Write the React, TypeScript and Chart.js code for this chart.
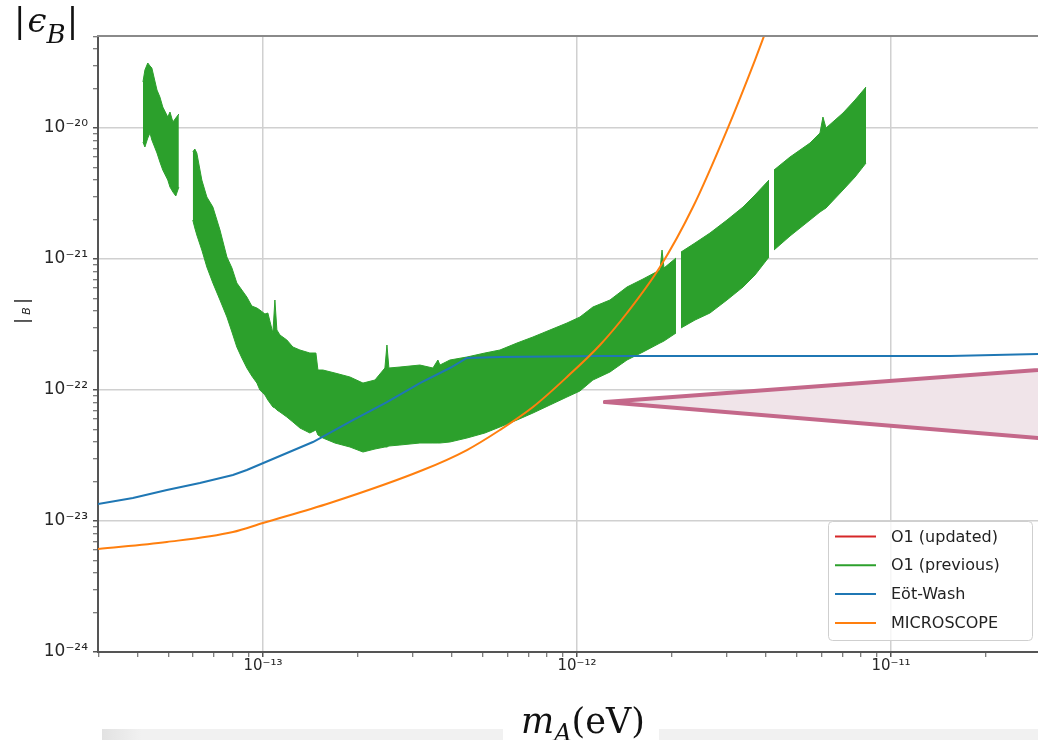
import React, { useEffect, useRef } from "react";
import { Chart, registerables } from "chart.js";

Chart.register(...registerables);

// ---------------- data ----------------
// O1 (previous): envelope of the dense oscillating limit; null entries are gaps
const o1PrevMass = [
  4.15e-14, 4.21e-14, 4.30e-14, 4.37e-14, 4.43e-14, 4.60e-14, 4.70e-14, 4.80e-14, 4.98e-14, 5.06e-14, 5.17e-14, 5.28e-14, 5.40e-14,
  5.7e-14,
  5.98e-14, 6.07e-14, 6.16e-14, 6.39e-14, 6.63e-14, 6.93e-14, 7.30e-14, 7.68e-14, 7.97e-14, 8.26e-14, 8.57e-14, 8.89e-14, 9.22e-14, 9.57e-14, 9.78e-14,
  1.015e-13, 1.037e-13, 1.076e-13, 1.092e-13, 1.108e-13, 1.133e-13, 1.192e-13, 1.246e-13, 1.312e-13, 1.411e-13, 1.475e-13, 1.497e-13, 1.553e-13, 1.696e-13, 1.893e-13,
  2.083e-13, 2.274e-13, 2.446e-13, 2.483e-13, 2.519e-13, 2.732e-13, 3.162e-13, 3.478e-13, 3.608e-13, 3.662e-13, 3.939e-13, 4.464e-13, 5.093e-13, 5.685e-13, 6.443e-13, 7.243e-13, 8.204e-13, 9.294e-13,
  1.022e-12, 1.124e-12, 1.274e-12, 1.443e-12, 1.623e-12, 1.838e-12, 1.866e-12, 1.893e-12, 2.067e-12,
  2.1e-12,
  2.144e-12, 2.376e-12, 2.652e-12, 3.004e-12, 3.379e-12, 3.689e-12, 4.088e-12,
  4.16e-12,
  4.241e-12, 4.769e-12, 5.521e-12, 5.940e-12, 6.071e-12, 6.209e-12, 7.033e-12, 7.682e-12, 8.326e-12,
];
const o1PrevUpper = [
  2.244e-20, 2.771e-20, 3.135e-20, 2.974e-20, 2.871e-20, 1.950e-20, 1.724e-20, 1.446e-20, 1.213e-20, 1.325e-20, 1.111e-20, 1.192e-20, 1.279e-20,
  null,
  6.560e-21, 6.914e-21, 6.446e-21, 4.010e-21, 2.974e-21, 2.494e-21, 1.665e-21, 1.036e-21, 8.537e-22, 6.558e-22, 5.799e-22, 5.128e-22, 4.377e-22, 4.227e-22, 4.081e-22,
  3.804e-22, 3.871e-22, 2.723e-22, 4.864e-22, 2.871e-22, 2.630e-22, 2.408e-22, 2.129e-22, 2.020e-22, 1.916e-22, 1.916e-22, 1.421e-22, 1.421e-22, 1.348e-22, 1.257e-22,
  1.130e-22, 1.192e-22, 1.472e-22, 2.206e-22, 1.472e-22, 1.498e-22, 1.551e-22, 1.472e-22, 1.694e-22, 1.551e-22, 1.694e-22, 1.786e-22, 1.916e-22, 2.020e-22, 2.284e-22, 2.539e-22, 2.871e-22, 3.246e-22,
  3.608e-22, 4.301e-22, 4.864e-22, 6.112e-22, 7.036e-22, 8.242e-22, 1.171e-21, 8.537e-22, 1.018e-21,
  null,
  1.130e-21, 1.325e-21, 1.579e-21, 1.984e-21, 2.494e-21, 3.080e-21, 4.010e-21,
  null,
  4.779e-21, 6.008e-21, 7.682e-21, 9.159e-21, 1.213e-20, 1.0e-20, 1.302e-20, 1.636e-20, 2.056e-20,
];
const o1PrevLower = [
  7.818e-21, 7.161e-21, 8.388e-21, 9.159e-21, 8.098e-21, 6.446e-21, 5.500e-21, 4.779e-21, 4.010e-21, 3.545e-21, 3.246e-21, 3.027e-21, 3.545e-21,
  null,
  1.984e-21, 1.724e-21, 1.525e-21, 1.171e-21, 8.687e-22, 6.558e-22, 4.864e-22, 3.608e-22, 2.772e-22, 2.129e-22, 1.755e-22, 1.472e-22, 1.279e-22, 1.130e-22, 1.0e-22,
  9.159e-23, 8.388e-23, 7.418e-23, 7.3e-23, 7.036e-23, 6.794e-23, 6.220e-23, 5.698e-23, 5.128e-23, 4.697e-23, 4.952e-23, 4.534e-23, 4.301e-23, 3.939e-23, 3.672e-23,
  3.362e-23, 3.545e-23, 3.672e-23, 3.672e-23, 3.737e-23, 3.803e-23, 3.939e-23, 3.939e-23, 3.939e-23, 3.939e-23, 4.009e-23, 4.301e-23, 4.697e-23, 5.219e-23, 5.902e-23, 6.675e-23, 7.682e-23, 8.842e-23,
  9.826e-23, 1.192e-22, 1.372e-22, 1.694e-22, 1.950e-22, 2.284e-22, 2.324e-22, 2.366e-22, 2.723e-22,
  null,
  2.974e-22, 3.422e-22, 3.871e-22, 4.864e-22, 6.112e-22, 7.548e-22, 1.036e-21,
  null,
  1.171e-21, 1.498e-21, 1.984e-21, 2.284e-21, 2.366e-21, 2.451e-21, 3.362e-21, 4.227e-21, 5.404e-21,
];

const eotWashMass = [2.985e-14, 3.855e-14, 4.946e-14, 6.30e-14, 8.027e-14, 8.89e-14, 1.443e-13, 1.935e-13, 2.483e-13, 3.162e-13, 3.939e-13, 4.464e-13, 5.685e-13, 1.184e-12, 1.541e-11, 2.938e-11];
const eotWashEps = [1.348e-23, 1.498e-23, 1.724e-23, 1.950e-23, 2.244e-23, 2.451e-23, 4.009e-23, 5.902e-23, 8.098e-23, 1.130e-22, 1.472e-22, 1.755e-22, 1.786e-22, 1.817e-22, 1.817e-22, 1.882e-22];

const microscopeMass = [2.985e-14, 4.946e-14, 8.027e-14, 1e-13, 1.635e-13, 3.232e-13, 4.464e-13, 5.685e-13, 7.243e-13, 9.294e-13, 1.184e-12, 1.443e-12, 1.838e-12, 2.341e-12, 3.004e-12, 3.689e-12, 4.117e-12];
const microscopeEps = [6.112e-24, 6.914e-24, 8.242e-24, 9.654e-24, 1.372e-23, 2.451e-23, 3.483e-23, 4.952e-23, 7.418e-23, 1.257e-22, 2.206e-22, 3.871e-22, 8.687e-22, 2.494e-21, 9.654e-21, 3.304e-20, 6.674e-20];

// projected sensitivity wedge (pink)
const projMass = [1.228e-12, 4.63e-11];
const projUpper = [8.098e-23, 1.541e-22];
const projLower = [8.098e-23, 3.925e-23];

const o1UpdatedMass: number[] = [];
const o1UpdatedEps: number[] = [];

const xRange = [2.985e-14, 2.938e-11];
const yRange = [1e-24, 5.04e-20];
const xTickExponents = [-13, -12, -11];
const yTickExponents = [-24, -23, -22, -21, -20];
const legendLabels = ["O1 (updated)", "O1 (previous)", "Eöt-Wash", "MICROSCOPE"];

// ---------------- helpers ----------------
const SUP = "⁰¹²³⁴⁵⁶⁷⁸⁹";
const sup = (n: number) =>
  String(n)
    .split("")
    .map((c) => (c === "-" ? "⁻" : SUP["0123456789".indexOf(c)]))
    .join("");

function logTicks(min: number, max: number, labelled: number[]) {
  const out: any[] = [];
  const e0 = Math.floor(Math.log10(min)) - 1;
  const e1 = Math.ceil(Math.log10(max)) + 1;
  for (let e = e0; e <= e1; e++) {
    for (let k = 1; k <= 9; k++) {
      const v = k * Math.pow(10, e);
      if (v < min * 0.99999 || v > max * 1.00001) continue;
      const major = k === 1;
      out.push({ value: v, major, lbl: major && labelled.includes(e) ? "10" + sup(e) : "" });
    }
  }
  return out;
}

const pts = (xs: number[], ys: (number | null)[]) => xs.map((x, i) => ({ x, y: ys[i] }));

const FONT = '"DejaVu Sans", "Liberation Sans", sans-serif';

const decorPlugin = {
  id: "decor",
  afterDraw(chart: any) {
    const { ctx, chartArea } = chart;
    ctx.save();
    // top spine
    ctx.strokeStyle = "#8a8a8a";
    ctx.lineWidth = 2;
    ctx.beginPath();
    ctx.moveTo(chartArea.left - 1, chartArea.top);
    ctx.lineTo(chartArea.right, chartArea.top);
    ctx.stroke();

    // y-axis title (rotated)
    ctx.save();
    ctx.translate(23, 311);
    ctx.rotate(-Math.PI / 2);
    ctx.fillStyle = "#262626";
    ctx.textAlign = "center";
    ctx.textBaseline = "middle";
    ctx.font = `18px ${FONT}`;
    ctx.fillText("|", -10, 0);
    ctx.fillText("|", 10, 0);
    ctx.font = `italic 11px ${FONT}`;
    ctx.fillText("B", 0, 4);
    ctx.restore();

    // legend with semi-transparent frame
    const items = legendLabels.map((lab) => {
      const ds = chart.data.datasets.find((d: any) => d.label === lab);
      return { lab, color: ds ? ds.borderColor : "#000" };
    });
    const bw = 204;
    const bh = 119;
    const bx = chartArea.right - 6 - bw;
    const by = chartArea.bottom - 12 - bh;
    ctx.fillStyle = "rgba(255,255,255,0.8)";
    ctx.strokeStyle = "#cfcfcf";
    ctx.lineWidth = 1;
    ctx.beginPath();
    (ctx as any).roundRect(bx + 0.5, by + 0.5, bw, bh, 4);
    ctx.fill();
    ctx.stroke();
    ctx.font = `16px ${FONT}`;
    ctx.textAlign = "left";
    ctx.textBaseline = "middle";
    items.forEach((it, i) => {
      const y = by + 15.5 + i * 28.8;
      ctx.strokeStyle = it.color;
      ctx.lineWidth = 2;
      ctx.beginPath();
      ctx.moveTo(bx + 7, y);
      ctx.lineTo(bx + 48, y);
      ctx.stroke();
      ctx.fillStyle = "#222";
      ctx.fillText(it.lab, bx + 63, y + 1);
    });
    ctx.restore();
  },
};

function axisCommon(labelled: number[], range: number[], fontSize: number, pad: number) {
  return {
    type: "logarithmic" as const,
    min: range[0],
    max: range[1],
    afterBuildTicks: (scale: any) => {
      scale.ticks = logTicks(range[0], range[1], labelled);
    },
    border: { display: true, color: "#555", width: 2 },
    grid: {
      color: (c: any) => (c.tick && c.tick.major ? "#d0d0d0" : "rgba(0,0,0,0)"),
      lineWidth: 1.5,
      drawTicks: true,
      tickLength: 5,
      tickColor: "#555",
      tickWidth: (c: any) => (c.tick && c.tick.major ? 1.5 : 1),
    },
    ticks: {
      autoSkip: false,
      maxRotation: 0,
      minRotation: 0,
      padding: pad,
      color: "#262626",
      font: { family: FONT, size: fontSize },
      callback: (_v: any, i: number, ticks: any[]) => ticks[i].lbl || "",
    },
  };
}

export default function App() {
  const ref = useRef<HTMLCanvasElement | null>(null);

  useEffect(() => {
    if (!ref.current) return;
    const chart = new Chart(ref.current, {
      type: "line",
      data: {
        datasets: [
          {
            label: "MICROSCOPE",
            data: pts(microscopeMass, microscopeEps),
            borderColor: "#ff7f0e",
            backgroundColor: "#ff7f0e",
            borderWidth: 2,
            cubicInterpolationMode: "monotone",
            fill: false,
            order: 0,
          },
          {
            label: "Eöt-Wash",
            data: pts(eotWashMass, eotWashEps),
            borderColor: "#1f77b4",
            backgroundColor: "#1f77b4",
            borderWidth: 2,
            fill: false,
            order: 1,
          },
          {
            label: "O1 (updated)",
            data: pts(o1UpdatedMass, o1UpdatedEps),
            borderColor: "#d62728",
            backgroundColor: "#d62728",
            borderWidth: 2,
            fill: false,
            order: 2,
          },
          {
            label: "O1 (previous)",
            data: pts(o1PrevMass, o1PrevUpper),
            borderColor: "#2ca02c",
            backgroundColor: "#2ca02c",
            borderWidth: 1,
            fill: false,
            order: 3,
          },
          {
            label: "_o1PrevLower",
            data: pts(o1PrevMass, o1PrevLower),
            borderColor: "#2ca02c",
            backgroundColor: "#2ca02c",
            borderWidth: 1,
            fill: "-1",
            order: 4,
          },
          {
            label: "_projUpper",
            data: pts(projMass, projUpper),
            borderColor: "#c4688a",
            backgroundColor: "#f0e4e9",
            borderWidth: 4,
            borderCapStyle: "round",
            fill: false,
            order: 5,
          },
          {
            label: "_projLower",
            data: pts(projMass, projLower),
            borderColor: "#c4688a",
            backgroundColor: "#f0e4e9",
            borderWidth: 4,
            borderCapStyle: "round",
            fill: "-1",
            order: 6,
          },
        ] as any,
      },
      options: {
        animation: false,
        responsive: false,
        maintainAspectRatio: false,
        events: [],
        layout: { padding: { top: 36, right: 0, bottom: 0, left: 0 } },
        elements: { point: { radius: 0 }, line: { tension: 0 } },
        plugins: { legend: { display: false }, tooltip: { enabled: false } },
        scales: {
          x: {
            ...axisCommon(xTickExponents, xRange, 15, 0),
            afterFit: (s: any) => {
              s.height = 88;
            },
          } as any,
          y: {
            ...axisCommon(yTickExponents, yRange, 17, 5),
            afterFit: (s: any) => {
              s.width = 98;
            },
          } as any,
        },
      },
      plugins: [decorPlugin],
    });
    return () => chart.destroy();
  }, []);

  const serif = '"DejaVu Serif", "Liberation Serif", serif';

  return (
    <div
      style={{
        position: "fixed",
        left: 0,
        top: 0,
        width: 1038,
        height: 740,
        background: "#fff",
        overflow: "hidden",
      }}
    >
      <canvas
        ref={ref}
        width={1038}
        height={740}
        style={{ position: "absolute", left: 0, top: 0, width: 1038, height: 740 }}
      />
      {/* top-left axis annotation */}
      <div
        style={{
          position: "absolute",
          left: 14,
          top: 0,
          fontFamily: serif,
          fontSize: 34,
          lineHeight: "40px",
          color: "#111",
          whiteSpace: "nowrap",
        }}
      >
        <span>|</span>
        <span style={{ fontStyle: "italic", marginLeft: 2 }}>ϵ</span>
        <span style={{ fontStyle: "italic", fontSize: 26, position: "relative", top: 11 }}>B</span>
        <span style={{ marginLeft: 1 }}>|</span>
      </div>
      {/* bottom grey strips */}
      <div
        style={{
          position: "absolute",
          left: 102,
          top: 729,
          width: 401,
          height: 11,
          background: "linear-gradient(90deg, #e2e2e2 0px, #f1f1f1 40px, #f1f1f1 100%)",
        }}
      />
      <div style={{ position: "absolute", left: 659, top: 729, width: 379, height: 11, background: "#f1f1f1" }} />
      {/* x-axis annotation */}
      <div
        style={{
          position: "absolute",
          left: 521,
          top: 700,
          fontFamily: serif,
          fontSize: 35,
          lineHeight: "42px",
          color: "#111",
          whiteSpace: "nowrap",
        }}
      >
        <span style={{ fontStyle: "italic" }}>m</span>
        <span style={{ fontStyle: "italic", fontSize: 24, position: "relative", top: 8 }}>A</span>
        <span>(eV)</span>
      </div>
    </div>
  );
}
